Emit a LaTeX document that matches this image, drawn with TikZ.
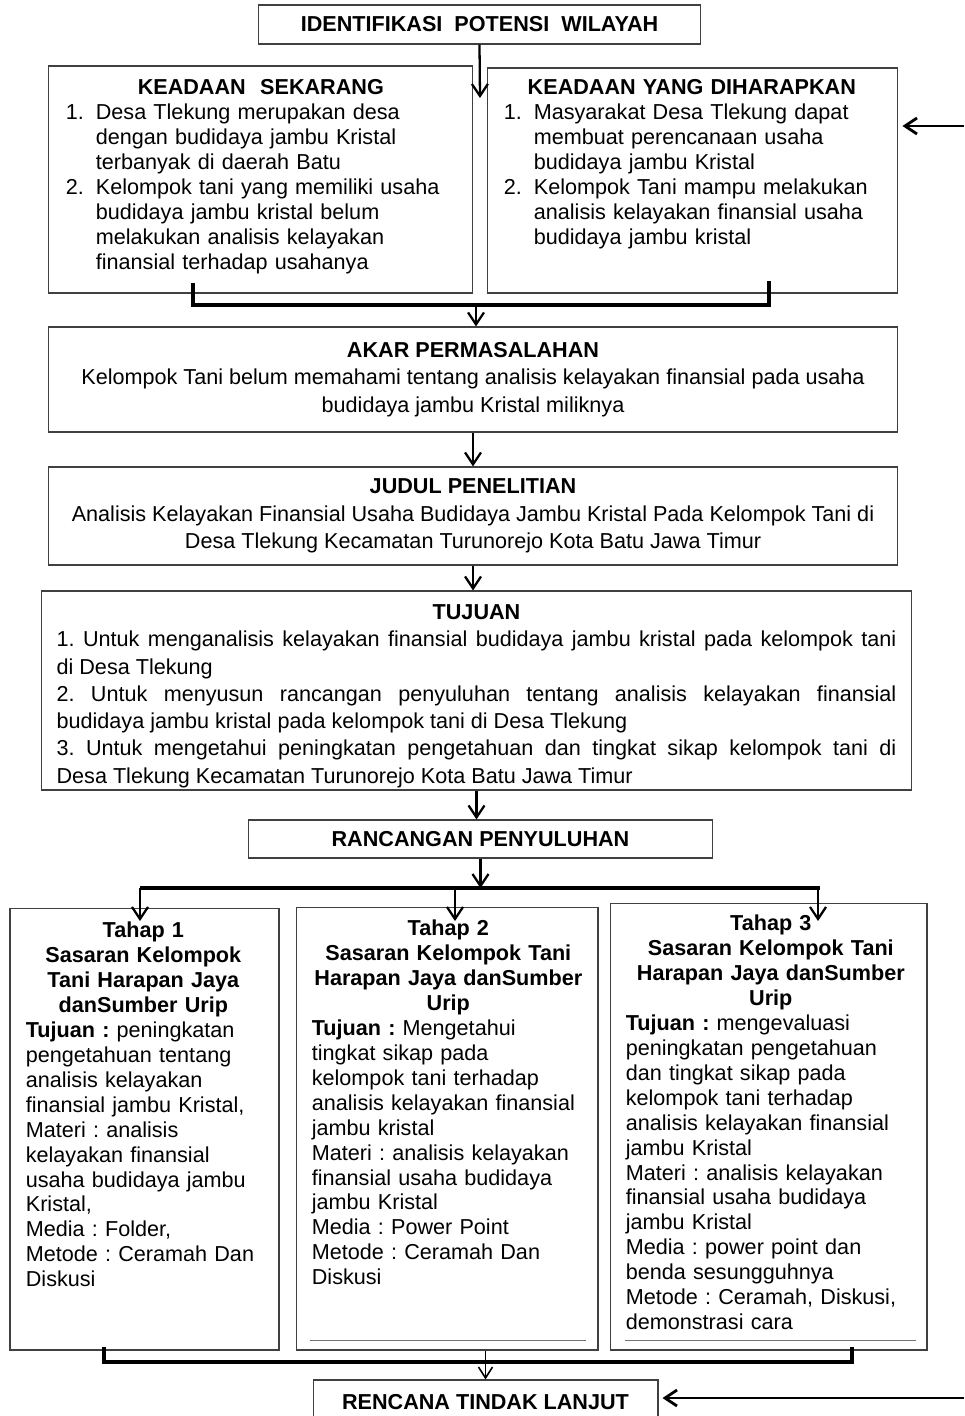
\documentclass[tikz,border=0pt]{standalone}
\usepackage{fontspec}
\setmainfont{Liberation Sans}
\usetikzlibrary{positioning, arrows.meta, calc}
\frenchspacing
\newcommand{\isi}{\fontsize{12.3}{14.2}\selectfont}
\newcommand{\isilebar}{\fontsize{12.3}{15.5}\selectfont}
\newcommand{\butir}[2]{\par\hangindent=0.6cm\hangafter=1\noindent\makebox[0.6cm][l]{#1}#2}

\begin{document}
\begin{tikzpicture}[
    x=0.02cm, y=-0.02cm,
    kotak/.style={draw=black!75, line width=0.6pt, inner sep=0pt, font=\isi},
    teks/.style={inner sep=0pt, anchor=north west, font=\isi, align=left},
    arr/.style={-{Straight Barb[length=2.4mm, width=3.2mm]}, line width=1.3pt},
    tipis/.style={-{Straight Barb[length=2.2mm, width=2.8mm]}, line width=0.9pt},
    bar/.style={line width=2pt},
    garis/.style={draw=black!55, line width=0.8pt},
]
\useasboundingbox (0,0) rectangle (964,1416);

% Identifikasi
\node[kotak, minimum width=8.86cm, minimum height=0.78cm, font=\isi\bfseries]
     (ident) at (479.5,24.5) {IDENTIFIKASI\ \ POTENSI\ \ WILAYAH};

% Keadaan sekarang / yang diharapkan
\node[kotak, minimum width=8.5cm, minimum height=4.54cm] (sekarang) at (260.5,179.5) {};
\node[kotak, minimum width=8.22cm, minimum height=4.5cm] (harapan) at (692.5,180.5) {};

\node[teks, text width=7.8cm] (sekarangisi) at ($(sekarang.north west)+(18,14)$)
     {{\centering\bfseries KEADAAN\ \ SEKARANG\par}
      \butir{1.}{Desa Tlekung merupakan desa\newline dengan budidaya jambu Kristal\newline terbanyak di daerah Batu}
      \butir{2.}{Kelompok tani yang memiliki usaha\newline budidaya jambu kristal belum\newline melakukan analisis kelayakan\newline finansial terhadap usahanya}\par};
\node[teks, text width=7.52cm] (harapanisi) at ($(harapan.north west)+(17,12)$)
     {{\centering\bfseries KEADAAN YANG DIHARAPKAN\par}
      \butir{1.}{Masyarakat Desa Tlekung dapat\newline membuat perencanaan usaha\newline budidaya jambu Kristal}
      \butir{2.}{Kelompok Tani mampu melakukan\newline analisis kelayakan finansial usaha\newline budidaya jambu kristal}\par};

% Akar, judul, tujuan
\node[kotak, minimum width=17cm, minimum height=2.1cm, font=\isilebar, align=center]
     (akar) at (473,379.5)
     {\textbf{AKAR PERMASALAHAN}\\
      Kelompok Tani belum memahami tentang analisis kelayakan finansial pada usaha\\
      budidaya jambu Kristal miliknya};
\node[kotak, minimum width=17cm, minimum height=1.96cm, font=\isilebar, align=center]
     (judul) at (473,516)
     {\textbf{JUDUL PENELITIAN}\\
      Analisis Kelayakan Finansial Usaha Budidaya Jambu Kristal Pada Kelompok Tani di\\
      Desa Tlekung Kecamatan Turunorejo Kota Batu Jawa Timur};
\node[kotak, minimum width=17.42cm, minimum height=3.98cm] (tujuan) at (476.5,690.5) {};
\node[teks, font=\isilebar, text width=16.8cm, align=justify, anchor=north]
     (tujuanisi) at ($(tujuan.north)+(0,14)$)
     {{\centering\bfseries TUJUAN\par}
      1.\ Untuk menganalisis kelayakan finansial budidaya jambu kristal pada kelompok tani\linebreak
      di Desa Tlekung\par
      2.\ Untuk menyusun rancangan penyuluhan tentang analisis kelayakan finansial\linebreak
      budidaya jambu kristal pada kelompok tani di Desa Tlekung\par
      3.\ Untuk mengetahui peningkatan pengetahuan dan tingkat sikap kelompok tani di\linebreak
      Desa Tlekung Kecamatan Turunorejo Kota Batu Jawa Timur\par};

\node[kotak, minimum width=9.3cm, minimum height=0.76cm, font=\isi\bfseries]
     (rancangan) at (480.5,839) {RANCANGAN PENYULUHAN};

% Tahap 1-3
\node[kotak, minimum width=5.38cm, minimum height=8.84cm] (t1) at (144.5,1129) {};
\node[kotak, minimum width=6.04cm, minimum height=8.86cm] (t2) at (447,1128.5) {};
\node[kotak, minimum width=6.34cm, minimum height=8.94cm] (t3) at (768.5,1126.5) {};

\node[teks, text width=4.7cm] (t1isi) at ($(t1.north west)+(16,14)$)
     {{\centering\bfseries Tahap 1\\ Sasaran Kelompok\\ Tani Harapan Jaya\\ danSumber Urip\par}
      \textbf{Tujuan :} peningkatan\\ pengetahuan tentang\\ analisis kelayakan\\
      finansial jambu Kristal,\\ Materi : analisis\\ kelayakan finansial\\
      usaha budidaya jambu\\ Kristal,\\ Media : Folder,\\ Metode : Ceramah Dan\\ Diskusi};
\node[teks, text width=5.46cm] (t2isi) at ($(t2.north west)+(16,13)$)
     {{\centering\bfseries Tahap 2\\ Sasaran Kelompok Tani\\ Harapan Jaya danSumber\\ Urip\par}
      \textbf{Tujuan :} Mengetahui\\ tingkat sikap pada\\ kelompok tani terhadap\\
      analisis kelayakan finansial\\ jambu kristal\\ Materi : analisis kelayakan\\
      finansial usaha budidaya\\ jambu Kristal\\ Media : Power Point\\
      Metode : Ceramah Dan\\ Diskusi};
\node[teks, text width=5.8cm] (t3isi) at ($(t3.north west)+(16,12)$)
     {{\centering\bfseries Tahap 3\\ Sasaran Kelompok Tani\\ Harapan Jaya danSumber\\ Urip\par}
      \textbf{Tujuan :} mengevaluasi\\ peningkatan pengetahuan\\ dan tingkat sikap pada\\
      kelompok tani terhadap\\ analisis kelayakan finansial\\ jambu Kristal\\
      Materi : analisis kelayakan\\ finansial usaha budidaya\\ jambu Kristal\\
      Media : power point dan\\ benda sesungguhnya\\ Metode : Ceramah, Diskusi,\\
      demonstrasi cara};

\draw[garis] ($(t2.south west)+(14,-10)$) -- ($(t2.south east)+(-13,-10)$);
\draw[garis] ($(t3.south west)+(15,-10)$) -- ($(t3.south east)+(-12,-10)$);

\node[kotak, minimum width=6.9cm, minimum height=0.88cm, font=\isi\bfseries]
     (rencana) at (485.5,1402) {RENCANA TINDAK LANJUT};

% Panah atas
\coordinate (turun) at (480,98);
\draw[arr] (ident.south) -- (turun);

\coordinate (kiri) at (193,283);
\coordinate (kanan) at (769,281);
\coordinate (temu) at (476,305);
\draw[bar] (kiri) |- (temu) -| (kanan);
\draw[arr] (temu) -- (temu |- akar.north);

\draw[arr] (akar.south) -- (judul.north);
\draw[arr] (judul.south) -- (judul.south |- tujuan.north);
\draw[arr] (tujuan.south) -- (tujuan.south |- rancangan.north);

% Cabang ke tahap
\coordinate (cabang) at (477,888);
\coordinate (cabkiri) at (140,888);
\coordinate (cabkanan) at (820,888);
\draw[arr] (rancangan.south) -- (rancangan.south |- cabang);
\draw[bar] (cabkiri) -- (cabkanan);
\foreach \x in {140,455,818} {
    \draw[arr] (\x,888) -- (\x,921);
}

% Gabung ke rencana tindak lanjut
\coordinate (kaki1) at (104,1347);
\coordinate (kaki3) at (852,1347);
\coordinate (gabung) at (490,1362);
\draw[bar] (kaki1) |- (gabung) -| (kaki3);
\draw[tipis] (rencana.north |- t2.south) -- (rencana.north);

% Panah dari kanan
\coordinate (masuk1) at (964,126);
\coordinate (masuk2) at (964,1398);
\draw[arr, line width=1.6pt, shorten >=0.08cm] (masuk1) -- (masuk1 -| harapan.east);
\draw[arr, line width=1.6pt, shorten >=0.08cm] (masuk2) -- (masuk2 -| rencana.east);

\end{tikzpicture}
\end{document}
